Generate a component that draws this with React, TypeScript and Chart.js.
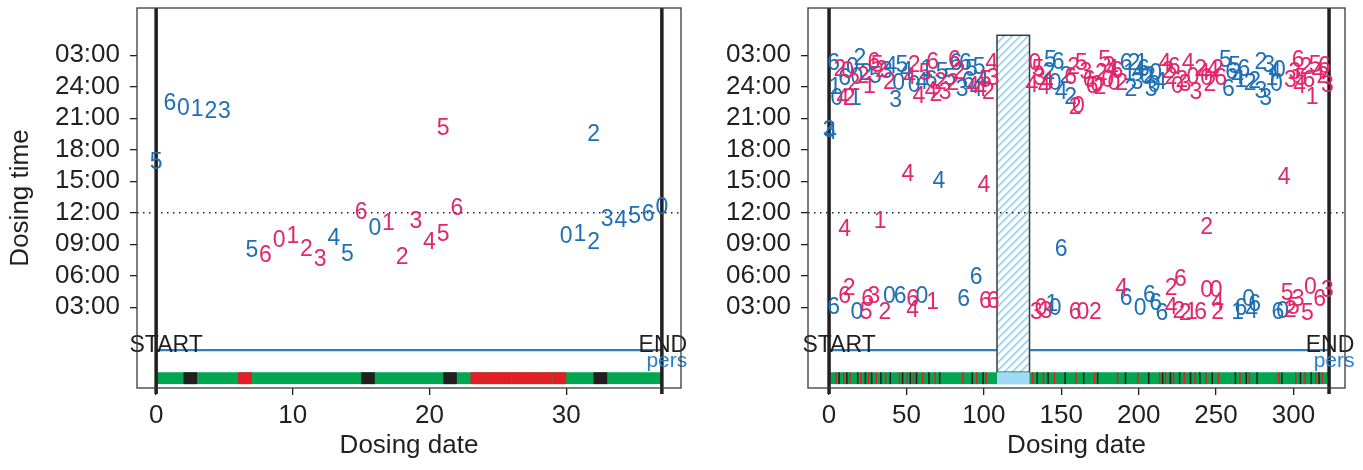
import React, { useEffect, useRef } from "react";
import { Chart, registerables } from "chart.js";

Chart.register(...registerables);

const FONT = "'Liberation Sans', Arial, Helvetica, sans-serif";
const INK = "#231f20";
const BLUE = "#1f6fb6";
const PINK = "#e3266a";
const LINE_BLUE = "#2b7fc3";
const GREEN = "#00a650";
const RED = "#e31e26";
const BLACK = "#231f20";
const LIGHT_BLUE = "#9fdaf6";
const HATCH = "#8fd2f2";

// ---- shared axis data ----
const Y_TICKS = [3, 6, 9, 12, 15, 18, 21, 24, 27];
const Y_TICK_LABELS = ["03:00", "06:00", "09:00", "12:00", "15:00", "18:00", "21:00", "24:00", "03:00"];
const Y_MIN = -4.7;
const Y_MAX = 31.5;
const NOON = 12;
const START_LINE_Y = -1.1;
const BAR_TOP = -3.2;
const BAR_BOTTOM = -4.33;

// ---- left panel ----
const L_X_TICKS = [0, 10, 20, 30];
const L_X_MIN = -1.4;
const L_X_MAX = 38.4;
const L_END = 37;
const L_BLUE_DAY = [0, 1, 2, 3, 4, 5, 7, 13, 14, 16, 30, 31, 32, 32, 33, 34, 35, 36, 37];
const L_BLUE_TIME = [16.8, 22.4, 21.9, 21.8, 21.6, 21.6, 8.43, 9.5, 8.05, 10.5, 9.67, 9.95, 9.1, 19.4, 11.3, 11.2, 11.6, 11.86, 12.5];
const L_BLUE_DIGIT = ["5", "6", "0", "1", "2", "3", "5", "4", "5", "0", "0", "1", "2", "2", "3", "4", "5", "6", "0"];
const L_PINK_DAY = [8, 9, 10, 11, 12, 15, 17, 18, 19, 20, 21, 21, 22];
const L_PINK_TIME = [7.95, 9.3, 9.67, 8.5, 7.5, 12.05, 11.0, 7.67, 11.1, 9.1, 9.95, 20.05, 12.4];
const L_PINK_DIGIT = ["6", "0", "1", "2", "3", "6", "1", "2", "3", "4", "5", "5", "6"];
const L_BLACK_DAYS = [2, 15, 21, 32];
const L_RED_DAYS = [6, 23, 24, 25, 26, 27, 28, 29];

// ---- right panel ----
const R_X_TICKS = [0, 50, 100, 150, 200, 250, 300];
const R_X_MIN = -13.6;
const R_X_MAX = 333.3;
const R_END = 323;
const R_GAP_START = 108.5;
const R_GAP_END = 129.5;
const R_GAP_TOP = 28.9;

const R_BLUE_DAY = [
  3, 4, 5, 10, 15, 17, 18, 20, 24, 30, 37, 40, 43, 45, 47, 50, 55, 60, 63, 66, 73, 78, 82, 86, 88, 90, 92, 95, 97, 99,
  142, 143, 146, 148, 150, 153, 156, 192, 194, 195, 197, 199, 200, 202, 203, 205, 207, 208, 210, 211, 214,
  256, 258, 260, 262, 264, 266, 268, 272, 275, 279, 279, 282, 284, 286, 288, 289, 291,
  3, 18, 39, 46, 60, 87, 95, 144, 146, 192, 201, 207, 211, 215, 264, 266, 271, 273, 275, 290, 293,
  0, 1, 71, 150,
];
const R_BLUE_TIME = [
  26.2, 23.9, 22.9, 24.8, 25.8, 22.9, 24.9, 26.7, 25.2, 25.0, 25.4, 25.9, 22.7, 24.3, 26.0, 25.4, 24.1, 24.4, 25.6, 24.6, 25.3, 24.8, 26.2, 23.7, 26.2, 24.5, 25.6, 23.7, 25.8, 24.6,
  25.3, 26.5, 24.3, 26.3, 23.4, 25.0, 23.0, 26.2, 25.2, 23.7, 26.2, 24.4, 25.3, 26.2, 25.6, 24.9, 25.0, 23.7, 24.1, 25.2, 24.4,
  26.5, 23.7, 25.3, 25.9, 24.9, 24.6, 25.6, 24.3, 24.5, 23.5, 26.3, 22.9, 26.0, 24.8, 25.3, 24.2, 25.5,
  3.0, 2.5, 4.0, 4.0, 4.0, 3.7, 5.8, 3.2, 2.9, 3.8, 2.9, 4.1, 3.3, 2.4, 2.5, 2.9, 3.7, 2.6, 3.2, 2.5, 2.6,
  19.8, 19.6, 15.0, 8.5,
];
const R_BLUE_DIGIT = [
  "6", "1", "0", "6", "0", "1", "0", "2", "2", "5", "3", "4", "3", "0", "5", "4", "0", "4", "1", "6", "5", "5", "6", "3", "6", "6", "5", "4", "5", "4",
  "2", "5", "0", "6", "4", "2", "2", "6", "1", "2", "2", "3", "4", "1", "6", "0", "2", "3", "0", "0", "4",
  "5", "6", "6", "5", "4", "1", "6", "2", "2", "3", "2", "3", "3", "1", "4", "0", "0",
  "6", "0", "0", "6", "0", "6", "6", "1", "0", "6", "0", "6", "6", "6", "1", "6", "0", "4", "6", "6", "0",
  "3", "4", "4", "6",
];

const R_PINK_DAY = [
  7, 9, 12, 13, 16, 22, 26, 29, 31, 34, 39, 52, 55, 58, 62, 66, 67, 69, 72, 75, 80, 81, 84, 93, 98, 101, 103, 105, 106,
  131, 133, 135, 136, 139, 141, 156, 158, 159, 161, 163, 166, 168, 170, 173, 175, 176, 178, 180, 181, 183, 184, 186, 189,
  217, 219, 221, 223, 225, 228, 230, 232, 235, 237, 240, 242, 244, 246, 248, 251, 253,
  298, 301, 303, 304, 305, 308, 310, 312, 314, 316, 319, 320, 322,
  10, 13, 24, 25, 29, 36, 54, 54, 67, 101, 106, 134, 137, 140, 159, 164, 172, 189, 221, 221, 226, 227, 230, 234, 240,
  244, 250, 251, 251, 296, 298, 300, 303, 309, 311, 317, 322,
  10, 33, 51, 100, 244, 294,
];
const R_PINK_TIME = [
  25.6, 22.9, 25.4, 22.9, 24.3, 25.0, 24.0, 26.3, 26.0, 25.5, 24.4, 24.9, 26.0, 23.1, 25.2, 23.5, 26.3, 23.2, 24.4, 23.4, 24.3, 26.5, 25.3, 24.0, 23.7, 24.6, 23.4, 26.2, 24.8,
  24.1, 26.2, 25.6, 24.8, 23.9, 24.4, 24.9, 25.8, 22.0, 22.1, 26.2, 25.3, 24.6, 24.0, 24.1, 23.9, 25.2, 26.5, 24.6, 25.9, 25.6, 24.3, 25.4, 24.3,
  26.2, 25.4, 24.9, 25.8, 24.0, 24.6, 24.2, 26.2, 24.9, 23.4, 25.6, 25.2, 24.8, 24.2, 25.5, 25.6, 24.8,
  24.6, 25.3, 26.5, 24.0, 24.8, 25.8, 24.6, 23.0, 26.0, 25.3, 25.0, 25.9, 24.1,
  4.0, 4.8, 2.5, 3.7, 4.0, 2.5, 3.7, 2.7, 3.4, 3.5, 3.5, 2.5, 2.9, 2.6, 2.5, 2.5, 2.5, 4.8, 3.0, 4.8, 2.6, 5.6, 2.4, 2.5, 2.5,
  4.6, 4.6, 3.4, 2.5, 4.3, 2.7, 3.0, 3.7, 2.4, 4.9, 3.7, 4.6,
  10.4, 11.1, 15.6, 14.6, 10.6, 15.3,
];
const R_PINK_DIGIT = [
  "2", "4", "0", "2", "2", "2", "1", "6", "5", "2", "2", "4", "2", "4", "5", "4", "6", "2", "2", "3", "2", "6", "2", "4", "4", "5", "2", "4", "3",
  "4", "0", "5", "3", "4", "4", "6", "2", "2", "0", "5", "3", "6", "6", "0", "2", "2", "5", "0", "3", "4", "0", "6", "2",
  "4", "2", "2", "6", "0", "2", "3", "4", "0", "3", "2", "4", "0", "2", "4", "2", "6",
  "3", "3", "6", "4", "5", "2", "6", "1", "5", "4", "2", "6", "3",
  "6", "2", "5", "6", "3", "2", "6", "4", "1", "6", "6", "3", "0", "3", "6", "0", "2", "4", "4", "2", "2", "6", "2", "1", "6",
  "0", "0", "4", "2", "5", "2", "5", "3", "5", "0", "6", "3",
  "4", "1", "4", "4", "2", "4",
];

const R_RED_DAYS = [4, 9, 13, 20, 25, 30, 36, 45, 50, 54, 60, 68, 86, 95, 101, 131, 138, 145, 159, 171, 186, 199, 213, 217, 222, 229, 236, 243, 251, 265, 271, 290, 301, 307, 314, 318];
const R_BLACK_DAYS = [6, 11, 18, 23, 27, 33, 39, 47, 52, 56, 64, 71, 92, 99, 134, 141, 152, 164, 173, 191, 206, 215, 220, 226, 233, 239, 247, 262, 269, 276, 292, 304, 311, 316];

type PanelCfg = {
  xTicks: number[];
  xMin: number;
  xMax: number;
  end: number;
  blueDay: number[];
  blueTime: number[];
  blueDigit: string[];
  pinkDay: number[];
  pinkTime: number[];
  pinkDigit: string[];
  redDays: number[];
  blackDays: number[];
  gap?: { start: number; end: number; top: number };
  yWidth: number;
  padRight: number;
  yTitle: boolean;
};

function makePlugin(cfg: PanelCfg) {
  return {
    id: "dosingPanel",
    beforeDatasetsDraw(chart: any) {
      const { ctx, chartArea: a, scales } = chart;
      const x = scales.x;
      const y = scales.y;
      const px = (v: number) => x.getPixelForValue(v);
      const py = (v: number) => y.getPixelForValue(v);
      ctx.save();

      // horizontal blue "pers" line
      ctx.strokeStyle = LINE_BLUE;
      ctx.lineWidth = 2.2;
      ctx.beginPath();
      ctx.moveTo(px(0), py(START_LINE_Y));
      ctx.lineTo(px(cfg.end), py(START_LINE_Y));
      ctx.stroke();

      // gap rectangle (hatched)
      if (cfg.gap) {
        const gx0 = px(cfg.gap.start);
        const gx1 = px(cfg.gap.end);
        const gy0 = py(cfg.gap.top);
        const gy1 = py(BAR_TOP);
        ctx.save();
        ctx.beginPath();
        ctx.rect(gx0, gy0, gx1 - gx0, gy1 - gy0);
        ctx.clip();
        ctx.fillStyle = "#ffffff";
        ctx.fillRect(gx0, gy0, gx1 - gx0, gy1 - gy0);
        ctx.strokeStyle = HATCH;
        ctx.lineWidth = 1.6;
        ctx.beginPath();
        const h = gy1 - gy0;
        for (let k = -h; k < gx1 - gx0 + h; k += 8) {
          ctx.moveTo(gx0 + k, gy1);
          ctx.lineTo(gx0 + k + h, gy0);
        }
        ctx.stroke();
        ctx.restore();
        ctx.strokeStyle = "#3a3a3a";
        ctx.lineWidth = 1.5;
        ctx.strokeRect(gx0, gy0, gx1 - gx0, gy1 - gy0);
      }

      // adherence bar
      const by0 = py(BAR_TOP);
      const by1 = py(BAR_BOTTOM);
      ctx.fillStyle = GREEN;
      ctx.fillRect(px(0), by0, px(cfg.end) - px(0), by1 - by0);
      ctx.fillStyle = RED;
      for (const d of cfg.redDays) ctx.fillRect(px(d), by0, px(d + 1) - px(d), by1 - by0);
      ctx.fillStyle = BLACK;
      for (const d of cfg.blackDays) ctx.fillRect(px(d), by0, px(d + 1) - px(d), by1 - by0);
      if (cfg.gap) {
        ctx.fillStyle = LIGHT_BLUE;
        ctx.fillRect(px(cfg.gap.start), by0, px(cfg.gap.end) - px(cfg.gap.start), by1 - by0);
      }

      // noon dotted line
      ctx.strokeStyle = INK;
      ctx.lineWidth = 1.5;
      ctx.setLineDash([1.5, 4.5]);
      ctx.beginPath();
      ctx.moveTo(a.left, py(NOON));
      ctx.lineTo(a.right, py(NOON));
      ctx.stroke();
      ctx.setLineDash([]);

      // START / END vertical lines
      ctx.strokeStyle = INK;
      ctx.lineWidth = 3.5;
      ctx.beginPath();
      ctx.moveTo(px(0), a.top);
      ctx.lineTo(px(0), a.bottom + 6);
      ctx.moveTo(px(cfg.end), a.top);
      ctx.lineTo(px(cfg.end), a.bottom + 6);
      ctx.stroke();

      // labels
      ctx.font = `23px ${FONT}`;
      ctx.fillStyle = INK;
      ctx.textAlign = "center";
      ctx.textBaseline = "alphabetic";
      ctx.fillText("START", px(0) + 10, py(START_LINE_Y) + 2);
      ctx.fillText("END", px(cfg.end) + 1, py(START_LINE_Y) + 2);
      ctx.font = `21px ${FONT}`;
      ctx.fillStyle = LINE_BLUE;
      ctx.textBaseline = "middle";
      ctx.fillText("pers", px(cfg.end) + 5, py(START_LINE_Y) + 11);
      ctx.restore();
    },
    afterDatasetsDraw(chart: any) {
      const { ctx, chartArea: a } = chart;
      ctx.save();
      ctx.font = `23px ${FONT}`;
      ctx.textAlign = "center";
      ctx.textBaseline = "middle";
      chart.data.datasets.forEach((ds: any, i: number) => {
        const meta = chart.getDatasetMeta(i);
        ctx.fillStyle = ds.digitColor;
        meta.data.forEach((el: any, j: number) => {
          ctx.fillText(ds.digits[j], el.x, el.y);
        });
      });
      ctx.strokeStyle = "#3a3a3a";
      ctx.lineWidth = 1.3;
      ctx.strokeRect(a.left, a.top, a.right - a.left, a.bottom - a.top);
      ctx.restore();
    },
  };
}

function zeroPad(s: any) {
  s.paddingTop = 0;
  s.paddingBottom = 0;
  s.paddingLeft = 0;
  s.paddingRight = 0;
}

function buildConfig(cfg: PanelCfg): any {
  const tickFont = { family: FONT, size: 26 };
  return {
    type: "scatter",
    data: {
      datasets: [
        {
          label: "blue",
          data: cfg.blueDay.map((d, i) => ({ x: d, y: cfg.blueTime[i] })),
          digits: cfg.blueDigit,
          digitColor: BLUE,
          pointRadius: 0,
          pointHoverRadius: 0,
        },
        {
          label: "pink",
          data: cfg.pinkDay.map((d, i) => ({ x: d, y: cfg.pinkTime[i] })),
          digits: cfg.pinkDigit,
          digitColor: PINK,
          pointRadius: 0,
          pointHoverRadius: 0,
        },
      ],
    },
    options: {
      responsive: false,
      animation: false,
      events: [],
      layout: { padding: { top: 8, right: cfg.padRight, left: 0, bottom: 0 } },
      plugins: { legend: { display: false }, tooltip: { enabled: false } },
      scales: {
        x: {
          type: "linear",
          min: cfg.xMin,
          max: cfg.xMax,
          afterBuildTicks: (s: any) => {
            s.ticks = cfg.xTicks.map((v) => ({ value: v }));
          },
          afterFit: (s: any) => {
            s.height = 82;
            zeroPad(s);
          },
          ticks: { font: tickFont, color: INK, padding: 5, maxRotation: 0, autoSkip: false, callback: (v: number) => String(v) },
          grid: { drawOnChartArea: false, drawTicks: true, tickLength: 7, color: INK, lineWidth: 1.3 },
          border: { display: false },
          title: { display: true, text: "Dosing date", font: tickFont, color: INK, padding: { top: 0, bottom: 9 } },
        },
        y: {
          type: "linear",
          min: Y_MIN,
          max: Y_MAX,
          afterBuildTicks: (s: any) => {
            s.ticks = Y_TICKS.map((v) => ({ value: v }));
          },
          afterFit: (s: any) => {
            s.width = cfg.yWidth;
            zeroPad(s);
          },
          ticks: {
            font: tickFont,
            color: INK,
            padding: 10,
            autoSkip: false,
            callback: (v: number) => Y_TICK_LABELS[Y_TICKS.indexOf(v)],
          },
          grid: { drawOnChartArea: false, drawTicks: true, tickLength: 7, color: INK, lineWidth: 1.3 },
          border: { display: false },
          title: {
            display: cfg.yTitle,
            text: "Dosing time",
            font: tickFont,
            color: INK,
            padding: { top: 5, bottom: 0 },
          },
        },
      },
    },
    plugins: [makePlugin(cfg)],
  };
}

const LEFT_CFG: PanelCfg = {
  xTicks: L_X_TICKS,
  xMin: L_X_MIN,
  xMax: L_X_MAX,
  end: L_END,
  blueDay: L_BLUE_DAY,
  blueTime: L_BLUE_TIME,
  blueDigit: L_BLUE_DIGIT,
  pinkDay: L_PINK_DAY,
  pinkTime: L_PINK_TIME,
  pinkDigit: L_PINK_DIGIT,
  redDays: L_RED_DAYS,
  blackDays: L_BLACK_DAYS,
  yWidth: 137,
  padRight: 9,
  yTitle: true,
};

const RIGHT_CFG: PanelCfg = {
  xTicks: R_X_TICKS,
  xMin: R_X_MIN,
  xMax: R_X_MAX,
  end: R_END,
  blueDay: R_BLUE_DAY,
  blueTime: R_BLUE_TIME,
  blueDigit: R_BLUE_DIGIT,
  pinkDay: R_PINK_DAY,
  pinkTime: R_PINK_TIME,
  pinkDigit: R_PINK_DIGIT,
  redDays: R_RED_DAYS,
  blackDays: R_BLACK_DAYS,
  gap: { start: R_GAP_START, end: R_GAP_END, top: R_GAP_TOP },
  yWidth: 118,
  padRight: 18,
  yTitle: false,
};

function Panel({ cfg, left, width }: { cfg: PanelCfg; left: number; width: number }) {
  const ref = useRef<HTMLCanvasElement | null>(null);
  useEffect(() => {
    if (!ref.current) return;
    const chart = new Chart(ref.current, buildConfig(cfg));
    return () => chart.destroy();
  }, [cfg]);
  return (
    <canvas
      ref={ref}
      width={width}
      height={470}
      style={{ position: "absolute", left, top: 0, width, height: 470 }}
    />
  );
}

export default function App() {
  return (
    <div style={{ position: "absolute", left: 0, top: 0, width: 1363, height: 470, background: "#ffffff", overflow: "hidden" }}>
      <Panel cfg={LEFT_CFG} left={0} width={690} />
      <Panel cfg={RIGHT_CFG} left={690} width={673} />
    </div>
  );
}
